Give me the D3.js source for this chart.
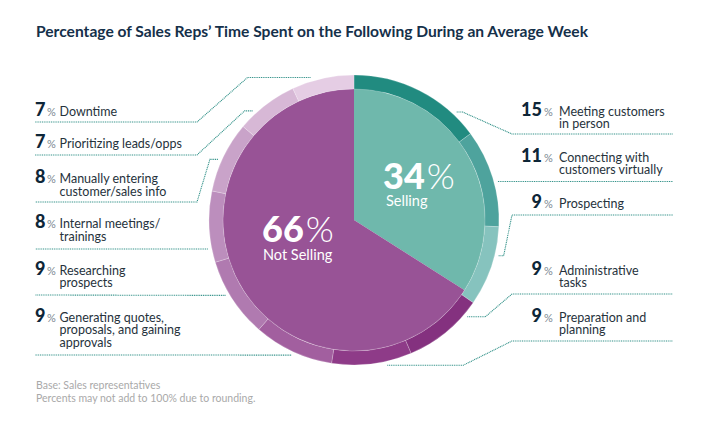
<!DOCTYPE html>
<html><head><meta charset="utf-8">
<script src="https://cdn.jsdelivr.net/npm/d3@7"></script>
<style>
html,body{margin:0;padding:0;background:#fff;}
svg{display:block;font-family:Lato,"Open Sans",sans-serif;}
</style></head>
<body>
<svg id="chart" width="713" height="431"></svg>
<script>
// ---- data ----
const mainCategories = ["Selling", "Not Selling"];
const mainValues = [34, 66];
const activityNames = [
  "Meeting customers in person",
  "Connecting with customers virtually",
  "Prospecting",
  "Administrative tasks",
  "Preparation and planning",
  "Generating quotes, proposals, and gaining approvals",
  "Researching prospects",
  "Internal meetings/ trainings",
  "Manually entering customer/sales info",
  "Prioritizing leads/opps",
  "Downtime"
];
const activityValues = [15, 11, 9, 9, 9, 9, 9, 8, 8, 7, 7];
const activityLines = [
  ["Meeting customers", "in person"],
  ["Connecting with", "customers virtually"],
  ["Prospecting"],
  ["Administrative", "tasks"],
  ["Preparation and", "planning"],
  ["Generating quotes,", "proposals, and gaining", "approvals"],
  ["Researching", "prospects"],
  ["Internal meetings/", "trainings"],
  ["Manually entering", "customer/sales info"],
  ["Prioritizing leads/opps"],
  ["Downtime"]
];
const titleText = "Percentage of Sales Reps\u2019 Time Spent on the Following During an Average Week";
const footnotes = ["Base: Sales representatives", "Percents may not add to 100% due to rounding."];

// ---- styles / layout ----
const mainColors = ["#6fb8ac", "#985396"];
const ringColors = ["#218b80", "#4ea39d", "#86c3be", "#84317f", "#8e3b88", "#a25f9f",
                    "#b07ab0", "#bc8ebd", "#c9a3c9", "#d7b8d6", "#e5cde4"];
const cx = 354, cy = 220, rPie = 131, rRing = 145, rAnchor = 149;
const labelLayout = [
  {side:"R", f:0.815, h:6,   pts:[[512,134],[673,134]], y:116},
  {side:"R", f:0.55,  h:0,   pts:[[673,181]],           y:161.7},
  {side:"R", f:0.35,  h:5,   pts:[[512,215],[673,215]], y:208},
  {side:"R", f:0.18,  h:18,  pts:[[512,294],[673,294]], y:275},
  {side:"R", f:0.32,  h:76,  pts:[[512,341],[673,341]], y:321.7},
  {side:"L", f:0.5,   h:0,   pts:[[35,355]],            y:321.7},
  {side:"L", f:0.58,  h:0,   pts:[[35,295]],            y:275},
  {side:"L", f:0.2,   h:0,   pts:[[35,249]],            y:228.3},
  {side:"L", f:0.435, h:-8,  pts:[[197,202],[35,202]],  y:183.3},
  {side:"L", f:0.28,  h:-8,  pts:[[197,155],[35,155]],  y:148.3},
  {side:"L", f:0.32,  h:-63, pts:[[197,122],[35,122]],  y:116}
];

const svg = d3.select("#chart");

// title
svg.append("text").attr("x", 36).attr("y", 37)
  .attr("font-size", 15.6).attr("font-weight", 700).attr("fill", "#15304a")
  .text(titleText);

const g = svg.append("g").attr("transform", `translate(${cx},${cy})`);

// inner pie
const pieMain = d3.pie().sort(null).value(d => d)(mainValues);
const arcMain = d3.arc().innerRadius(0).outerRadius(rPie);
g.selectAll("path.main").data(pieMain).join("path")
  .attr("class", "main").attr("d", arcMain)
  .attr("fill", (d, i) => mainColors[i]);

// outer ring
const pieRing = d3.pie().sort(null).value(d => d)(activityValues);
const arcRing = d3.arc().innerRadius(rPie).outerRadius(rRing);
g.selectAll("path.ring").data(pieRing).join("path")
  .attr("class", "ring").attr("d", arcRing)
  .attr("fill", (d, i) => ringColors[i])
  .attr("stroke", "rgba(255,255,255,0.35)").attr("stroke-width", 0.6);

// leader lines
const lineGen = d3.line();
pieRing.forEach((d, i) => {
  const L = labelLayout[i];
  const a = d.startAngle + L.f * (d.endAngle - d.startAngle);
  const ax = cx + rAnchor * Math.sin(a), ay = cy - rAnchor * Math.cos(a);
  const pts = [[ax, ay]];
  if (L.h !== 0) pts.push([ax + L.h, ay]);
  L.pts.forEach(p => pts.push(p.slice()));
  if (i === 1) pts[pts.length - 1][1] = ay;
  svg.append("path").attr("d", lineGen(pts))
    .attr("fill", "none").attr("stroke", "#2a8d84")
    .attr("stroke-width", 1.1).attr("stroke-dasharray", "1,0.8");
});

// labels (one text element per label)
pieRing.forEach((d, i) => {
  const L = labelLayout[i];
  const numEnd = L.side === "R" ? 542 : 45.5;
  const pctX = L.side === "R" ? 544 : 47;
  const txtX = L.side === "R" ? 559 : 59.5;
  const t = svg.append("text").attr("y", L.y);
  t.append("tspan").attr("x", numEnd).attr("y", L.y).attr("text-anchor", "end")
    .attr("font-size", 18).attr("font-weight", 900).attr("fill", "#0e2638")
    .text(activityValues[i]);
  t.append("tspan").attr("x", pctX).attr("y", L.y).attr("text-anchor", "start")
    .attr("font-size", 11).attr("fill", "#7d8891").text("%");
  activityLines[i].forEach((ln, k) => {
    t.append("tspan").attr("x", txtX).attr("y", L.y + k * 12.4).attr("text-anchor", "start")
      .attr("font-size", 12.5).attr("fill", "#26323c").text(ln);
  });
});

// center labels
const centerText = [
  {dx: 29, dy: -31, sdx: 32, sdy: -14},
  {dx: -92, dy: 22, sdx: -91, sdy: 40}
];
pieMain.forEach((d, i) => {
  const c = centerText[i];
  const t = g.append("text").attr("fill", "#fff");
  t.append("tspan").attr("x", c.dx).attr("y", c.dy).attr("font-size", 36)
    .attr("font-weight", 900).text(mainValues[i]);
  t.append("tspan").attr("font-size", 36).attr("font-weight", 300).attr("dx", 2).text("%");
  t.append("tspan").attr("x", c.sdx).attr("y", c.sdy).attr("font-size", 14.5)
    .attr("font-weight", 400).text(mainCategories[i]);
});

// footnotes
const fn = svg.append("text").attr("font-size", 10.5).attr("fill", "#a9a9a9");
footnotes.forEach((f, i) => {
  fn.append("tspan").attr("x", 36).attr("y", 389 + i * 12.5).text(f);
});
</script>
</body></html>
